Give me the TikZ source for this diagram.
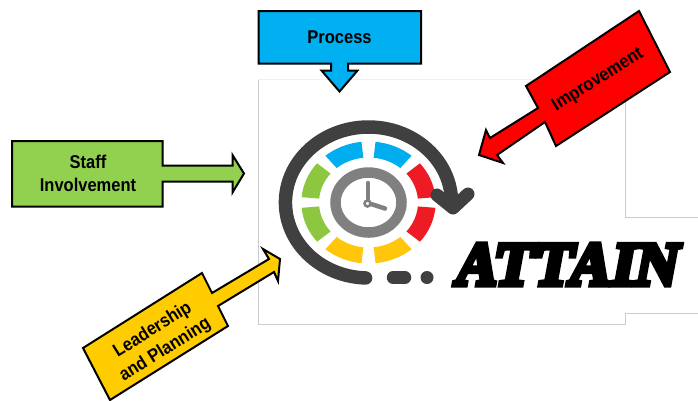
\documentclass[tikz,border=0pt]{standalone}
\usepackage{fontspec}
\setmainfont{Liberation Sans}
\newfontfamily\brushfont[FakeBold=9,FakeSlant=0.2,LetterSpace=3]{Liberation Serif Bold}
\definecolor{calloutblue}{HTML}{00B0F0}
\definecolor{calloutgreen}{HTML}{92D050}
\definecolor{calloutred}{HTML}{FF0000}
\definecolor{calloutyellow}{HTML}{FFCC00}
\definecolor{iconblue}{HTML}{00AEEF}
\definecolor{icongreen}{HTML}{8DC63F}
\definecolor{iconred}{HTML}{ED1C24}
\definecolor{iconyellow}{HTML}{FFC60B}
\definecolor{icondark}{HTML}{404040}
\definecolor{icongray}{HTML}{808080}
\definecolor{framegray}{HTML}{CCCCCC}
\tikzset{
    callout/.style={draw=black, line width=2pt, miter limit=10},
    calloutlabel/.style={font=\fontsize{16.5}{21}\selectfont\bfseries, align=center, inner sep=0pt, transform shape},
    frameline/.style={draw=framegray, line width=0.8pt}
}
\begin{document}
\begin{tikzpicture}[x=1pt, y=-1pt]
    \useasboundingbox (0,0) rectangle (698,400);

    % frame of the pasted picture
    \draw[frameline] (258,80) -- (258,324) -- (625,324) -- (625,313) -- (698,313);
    \draw[frameline] (625,100) -- (625,217) -- (698,217);
    \draw[draw=black!6, line width=0.6pt] (258,79.5) -- (625,79.5);

    % clock icon
    \begin{scope}[shift={(368.5,202.5)}, x=1pt, y=1pt, xscale=1.1]
        \foreach \from/\to/\col in {96/130/iconblue, 50/84/iconblue, 5/40/iconred, 320/355/iconred,
                                    276/310/iconyellow, 230/264/iconyellow, 185/220/icongreen, 140/175/icongreen}
            \fill[\col] (\from:61) arc[start angle=\from, end angle=\to, radius=61]
                -- (\to:45) arc[start angle=\to, end angle=\from, radius=45] -- cycle;
        \draw[icongray, line width=10.5pt] (0,0) circle[radius=30];
        \draw[icondark, line width=13.5pt, line cap=round] (268:75.5) arc[start angle=268, end angle=0, radius=75.5];
    \end{scope}
    \draw[icongray, line width=4.5pt, line cap=round] (368,203) -- (368,183);
    \draw[icongray, line width=4.5pt, line cap=round] (368,203) -- (385,208.5);
    \draw[icongray, line width=2.5pt, fill=white] (367.5,203.5) circle[radius=3];
    \draw[icondark, line width=13pt, line cap=round, line join=round] (437,195) -- (453,208) -- (468,194);
    \draw[icondark, line width=12.5pt, line cap=round] (393,277.5) -- (405,277.5);
    \fill[icondark] (427,277.5) circle[radius=6.5];

    % callouts
    \draw[callout, fill=calloutblue] (258.5,11) -- (421,11) -- (421,63.5) -- (348,63.5) -- (348,70.5) -- (357.5,70.5)
        -- (339.5,91.5) -- (321.5,70.5) -- (331,70.5) -- (331,63.5) -- (258.5,63.5) -- cycle;
    \draw[callout, fill=calloutgreen] (12,141) -- (162.5,141) -- (162.5,165.5) -- (232.5,165.5) -- (232.5,155)
        -- (244,173.5) -- (232.5,192.5) -- (232.5,181.5) -- (162.5,181.5) -- (162.5,206.5) -- (12,206.5) -- cycle;
    \draw[callout, fill=calloutred] (639,11) -- (670,72) -- (556,146) -- (545,122) -- (497,155) -- (503,163)
        -- (479,155) -- (486,130) -- (490,138) -- (538,108) -- (526,86) -- cycle;
    \draw[callout, fill=calloutyellow] (202,273) -- (212,293) -- (269,259) -- (263,249) -- (280,259) -- (278,281)
        -- (274,272) -- (218,306) -- (228,326) -- (110,400) -- (83,348) -- cycle;

    \node[calloutlabel, yscale=1.12] (process) at (339.5,37.5) {Process};
    \node[calloutlabel, yscale=1.12] (staff) at (88,173.5) {Staff\\Involvement};
    \node[calloutlabel, rotate=32, yscale=1.12] (improvement) at (598,80) {Improvement};
    \node[calloutlabel, rotate=32, yscale=1.12] (leadership) at (159,340) {Leadership\\and Planning};

    \node[inner sep=0pt, transform shape, xscale=0.98, yscale=1.06, font=\brushfont\fontsize{58}{58}\selectfont] (attain) at (564,264.5) {ATTAIN};
\end{tikzpicture}
\end{document}
